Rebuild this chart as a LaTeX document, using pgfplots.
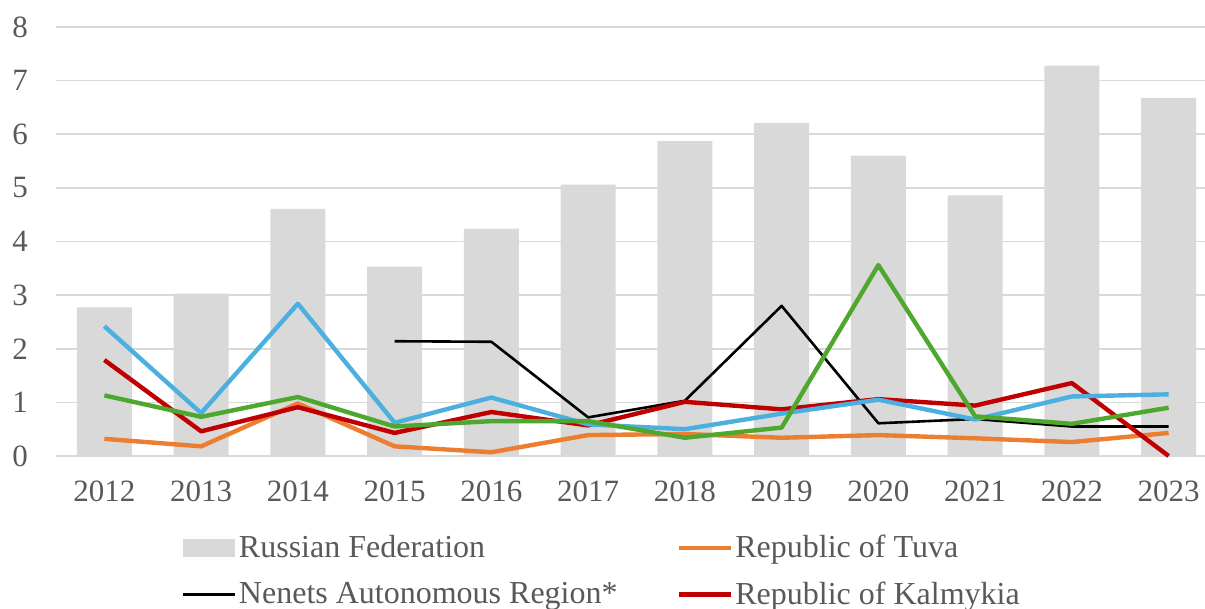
\documentclass[border=0pt]{standalone}
\usepackage{pgfplots}
\pgfplotsset{compat=1.18}
\usepackage{fontspec}
\setmainfont{Liberation Serif}
\definecolor{barGray}{HTML}{D9D9D9}
\definecolor{gridGray}{HTML}{D9D9D9}
\definecolor{txtGray}{HTML}{595959}
\definecolor{tuva}{HTML}{ED7D31}
\definecolor{kalm}{HTML}{C00000}
\definecolor{lblue}{HTML}{4BB0E0}
\definecolor{lgreen}{HTML}{4EA72E}
\begin{document}
\begin{tikzpicture}
\begin{axis}[
  at={(28pt,76.5pt)}, anchor=south west,
  scale only axis, width=580.5pt, height=214.5pt,
  xmin=-0.5, xmax=11.5, ymin=0, ymax=8,
  xtick={0,...,11},
  xticklabels={2012,2013,2014,2015,2016,2017,2018,2019,2020,2021,2022,2023},
  ytick={0,...,8},
  axis line style={draw=none},
  major tick length=0pt,
  ymajorgrids, grid style={gridGray, line width=0.8pt},
  tick label style={font=\fontsize{15.5}{18}\selectfont, text=txtGray},
  /pgf/number format/assume math mode=true,
  yticklabel style={xshift=-10.5pt},
  xticklabel style={yshift=-9pt},
  clip=false,
  legend columns=2,
  legend style={draw=none, fill=none, font=\fontsize{16}{18}\selectfont,
    text=txtGray, at={(0.1025,-0.170)}, anchor=north west,
    /tikz/every even column/.append style={column sep=0pt},
    row sep=8.5pt,
    nodes={inner sep=1pt}},
  legend cell align=left,
  legend image code/.code={\draw[#1, line width=2.2pt] (0pt,0pt) -- (26pt,0pt);},
]
\addplot[ybar, bar width=27.5pt, fill=barGray, draw=none,
  legend image code/.code={\fill[barGray] (0pt,-4.5pt) rectangle (26pt,4.5pt);}]
  coordinates {(0,2.77) (1,3.03) (2,4.61) (3,3.53) (4,4.24) (5,5.06) (6,5.87) (7,6.21) (8,5.60) (9,4.86) (10,7.28) (11,6.68)};
\addlegendentry{\makebox[218pt][l]{Russian Federation}}
\addplot[tuva, line width=2.2pt, line join=round]
  coordinates {(0,0.32) (1,0.18) (2,0.98) (3,0.18) (4,0.07) (5,0.39) (6,0.41) (7,0.34) (8,0.39) (9,0.33) (10,0.26) (11,0.43)};
\addlegendentry{Republic of Tuva}
\addplot[black, line width=1.3pt, line join=round,
  legend image code/.code={\draw[black, line width=1.8pt] (0pt,0pt) -- (26pt,0pt);}]
  coordinates {(3,2.14) (4,2.13) (5,0.72) (6,1.03) (7,2.80) (8,0.61) (9,0.69) (10,0.55) (11,0.55)};
\addlegendentry{\makebox[218pt][l]{Nenets Autonomous Region*}}
\addplot[kalm, line width=2.2pt, line join=round]
  coordinates {(0,1.79) (1,0.46) (2,0.91) (3,0.43) (4,0.82) (5,0.57) (6,1.01) (7,0.87) (8,1.06) (9,0.94) (10,1.36) (11,0.0)};
\addlegendentry{Republic of Kalmykia}
\addplot[lblue, line width=2.2pt, line join=round, forget plot]
  coordinates {(0,2.42) (1,0.80) (2,2.84) (3,0.62) (4,1.09) (5,0.59) (6,0.50) (7,0.79) (8,1.05) (9,0.68) (10,1.11) (11,1.15)};
\addplot[lgreen, line width=2.2pt, line join=round, forget plot]
  coordinates {(0,1.13) (1,0.73) (2,1.10) (3,0.55) (4,0.65) (5,0.65) (6,0.34) (7,0.53) (8,3.56) (9,0.74) (10,0.60) (11,0.90)};
\end{axis}
\pgfresetboundingbox
\path (0pt,0pt) rectangle (602.5pt,304.5pt);
\end{tikzpicture}
\end{document}
